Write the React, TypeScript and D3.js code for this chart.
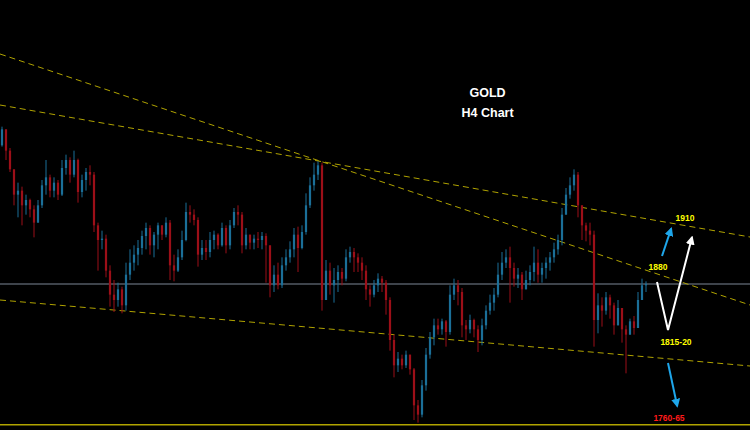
import React, { useEffect } from "react";
import * as d3 from "d3";

const W = 750;
const H = 430;

const firstOpen = 1966;
const closes = [
  1978, 1962, 1948, 1929, 1932, 1921, 1925, 1918, 1908, 1921,
  1936, 1942, 1932, 1938, 1929, 1949, 1955, 1944, 1955, 1931,
  1940, 1946, 1944, 1906, 1895, 1896, 1872, 1854, 1850, 1858,
  1846, 1869, 1878, 1884, 1889, 1898, 1904, 1891, 1899, 1906,
  1899, 1908, 1876, 1872, 1882, 1895, 1916, 1914, 1910, 1884,
  1889, 1886, 1895, 1899, 1891, 1904, 1891, 1906, 1916, 1914,
  1891, 1899, 1893, 1896, 1895, 1898, 1891, 1861, 1869, 1861,
  1876, 1882, 1888, 1899, 1889, 1901, 1921, 1936, 1944, 1951,
  1850, 1872, 1861, 1865, 1871, 1866, 1882, 1886, 1882, 1878,
  1872, 1858, 1854, 1861, 1866, 1863, 1850, 1820, 1801, 1806,
  1801, 1809, 1798, 1771, 1764, 1786, 1809, 1822, 1831, 1828,
  1834, 1826, 1854, 1861, 1856, 1831, 1828, 1835, 1828, 1820,
  1831, 1842, 1848, 1854, 1869, 1878, 1882, 1874, 1866, 1869,
  1858, 1865, 1871, 1878, 1869, 1874, 1878, 1882, 1888, 1895,
  1914, 1929, 1936, 1944, 1921, 1906, 1902, 1899, 1835, 1846,
  1842, 1852, 1846, 1831, 1844, 1828, 1824, 1834, 1829, 1850,
  1861, 1862,
];
const highs = [
  1980, 1966, 1964, 1944, 1938, 1935, 1929, 1926, 1921, 1925,
  1940, 1955, 1944, 1942, 1940, 1955, 1959, 1957, 1962, 1956,
  1944, 1949, 1951, 1946, 1908, 1902, 1899, 1876, 1865, 1863,
  1860, 1878, 1888, 1891, 1895, 1902, 1908, 1906, 1901, 1908,
  1906, 1912, 1910, 1884, 1888, 1902, 1923, 1921, 1918, 1912,
  1895, 1895, 1901, 1902, 1900, 1908, 1906, 1910, 1919, 1921,
  1916, 1904, 1899, 1899, 1901, 1901, 1900, 1876, 1876, 1878,
  1882, 1888, 1894, 1904, 1905, 1906, 1930, 1942, 1953, 1954,
  1953, 1880, 1878, 1874, 1876, 1874, 1888, 1890, 1889, 1885,
  1882, 1876, 1861, 1865, 1870, 1868, 1865, 1852, 1824, 1811,
  1809, 1812, 1809, 1799, 1775, 1790, 1814, 1826, 1836, 1836,
  1836, 1835, 1861, 1866, 1865, 1859, 1835, 1839, 1836, 1831,
  1836, 1846, 1854, 1859, 1878, 1886, 1888, 1890, 1878, 1874,
  1871, 1872, 1876, 1890, 1888, 1878, 1882, 1886, 1893, 1899,
  1919, 1934, 1942, 1948, 1946, 1921, 1908, 1908, 1902, 1855,
  1852, 1856, 1854, 1848, 1850, 1839, 1831, 1836, 1838, 1856,
  1866, 1864,
];
const lows = [
  1965, 1955, 1946, 1921, 1912, 1906, 1914, 1912, 1897, 1908,
  1919, 1929, 1927, 1927, 1925, 1928, 1944, 1938, 1942, 1923,
  1927, 1932, 1936, 1901, 1872, 1888, 1867, 1845, 1841, 1845,
  1840, 1842, 1865, 1872, 1876, 1884, 1888, 1884, 1882, 1888,
  1895, 1897, 1865, 1864, 1871, 1880, 1894, 1908, 1906, 1875,
  1880, 1880, 1882, 1888, 1888, 1890, 1885, 1888, 1904, 1906,
  1885, 1888, 1888, 1888, 1889, 1888, 1863, 1852, 1856, 1858,
  1859, 1872, 1878, 1882, 1871, 1888, 1899, 1919, 1932, 1940,
  1842, 1850, 1854, 1848, 1856, 1861, 1864, 1878, 1871, 1871,
  1865, 1850, 1845, 1852, 1856, 1856, 1839, 1812, 1792, 1796,
  1798, 1799, 1794, 1760, 1758, 1762, 1782, 1806, 1816, 1824,
  1824, 1815, 1824, 1850, 1846, 1822, 1820, 1825, 1822, 1811,
  1816, 1828, 1839, 1842, 1852, 1865, 1874, 1848, 1860, 1859,
  1850, 1858, 1861, 1864, 1863, 1863, 1866, 1872, 1878, 1884,
  1891, 1916, 1926, 1932, 1912, 1895, 1894, 1891, 1815, 1825,
  1830, 1839, 1836, 1824, 1834, 1818, 1795, 1824, 1824, 1835,
  1854, 1856,
];

const currentPrice = 1862;
const floorPrice = 1756.5;

// trend lines: [barIndex, price] endpoints
const trendStarts = [[-0.5, 2034.5], [-0.5, 1996.25], [-0.5, 1850]];
const trendEnds = [[187, 1846.25], [187, 1897.25], [187, 1800.5]];

const titleLines = ["GOLD", "H4 Chart"];
const titleAnchor = [121.4, 2002.25, 1987.25];

const levelLabels = ["1910", "1880", "1815-20", "1760-65"];
const levelIdx = [170.75, 164, 168.5, 166.75];
const levelPrice = [1909.25, 1872.5, 1816.25, 1759.25];
const levelColors = ["#ffff00", "#ffff00", "#ffff00", "#ff1a1a"];

const blueUpArrow = [[165, 1883], [167.3, 1903.5]];
const whitePath = [[163.75, 1863.5], [166.5, 1827.5], [172.5, 1897]];
const blueDownArrow = [[166.5, 1802.75], [168.8, 1770.5]];

const UP = "#1b6f98";
const DOWN = "#9c0f18";
const TREND = "#b0a300";
const FONT = "'Liberation Sans', Arial, sans-serif";

export default function App() {
  useEffect(() => {
    document.body.style.margin = "0";
    document.body.style.background = "#000";
  }, []);

  const x = d3.scaleLinear().domain([0, closes.length - 1]).range([2, 646]);
  const y = d3.scaleLinear().domain([1760, 1910]).range([420, 220]);

  const candles = closes.map((c, i) => {
    const o = i === 0 ? firstOpen : closes[i - 1];
    return {
      i,
      o,
      c,
      h: Math.max(highs[i], o, c),
      l: Math.min(lows[i], o, c),
    };
  });

  const line = d3
    .line<number[]>()
    .x((d) => x(d[0]))
    .y((d) => y(d[1]));

  const bw = 2.2;

  return (
    <svg width={W} height={H} style={{ display: "block", background: "#000" }}>
      <defs>
        <marker id="ahBlue" viewBox="0 0 10 10" refX="8" refY="5" markerUnits="userSpaceOnUse" markerWidth="9" markerHeight="9" orient="auto">
          <path d="M0,0 L10,5 L0,10 z" fill="#1ea6ea" />
        </marker>
        <marker id="ahWhite" viewBox="0 0 10 10" refX="8" refY="5" markerUnits="userSpaceOnUse" markerWidth="9" markerHeight="9" orient="auto">
          <path d="M0,0 L10,5 L0,10 z" fill="#ffffff" />
        </marker>
      </defs>
      <rect x={0} y={0} width={W} height={H} fill="#000" />

      {/* current price line */}
      <line x1={0} x2={W} y1={y(currentPrice)} y2={y(currentPrice)} stroke="#7d8796" strokeWidth={1} />

      {/* trend lines */}
      {trendStarts.map((s, k) => (
        <path key={k} d={line([s, trendEnds[k]]) || ""} stroke={TREND} strokeWidth={1} strokeDasharray="6,4" fill="none" />
      ))}

      {/* candles */}
      {candles.map((d) => {
        const col = d.c >= d.o ? UP : DOWN;
        const top = y(Math.max(d.o, d.c));
        const bh = Math.max(1, Math.abs(y(d.o) - y(d.c)));
        return (
          <g key={d.i}>
            <line x1={x(d.i)} x2={x(d.i)} y1={y(d.h)} y2={y(d.l)} stroke={col} strokeWidth={1} />
            <rect x={x(d.i) - bw / 2} y={top} width={bw} height={bh} fill={col} />
          </g>
        );
      })}

      {/* floor line */}
      <line x1={0} x2={W} y1={y(floorPrice)} y2={y(floorPrice)} stroke={TREND} strokeWidth={1.5} />

      {/* arrows */}
      <path d={line(blueUpArrow) || ""} stroke="#1ea6ea" strokeWidth={2} fill="none" markerEnd="url(#ahBlue)" />
      <path d={line(whitePath) || ""} stroke="#ffffff" strokeWidth={2} fill="none" markerEnd="url(#ahWhite)" />
      <path d={line(blueDownArrow) || ""} stroke="#1ea6ea" strokeWidth={2} fill="none" markerEnd="url(#ahBlue)" />

      {/* title */}
      {titleLines.map((t, k) => (
        <text key={t} x={x(titleAnchor[0])} y={y(titleAnchor[k + 1])} fill="#ffffff" fontFamily={FONT} fontWeight="bold" fontSize={12.5} textAnchor="middle">
          {t}
        </text>
      ))}

      {/* level labels */}
      {levelLabels.map((t, k) => (
        <text key={t} x={x(levelIdx[k])} y={y(levelPrice[k])} fill={levelColors[k]} fontFamily={FONT} fontWeight="bold" fontSize={8.5} textAnchor="middle">
          {t}
        </text>
      ))}
    </svg>
  );
}
